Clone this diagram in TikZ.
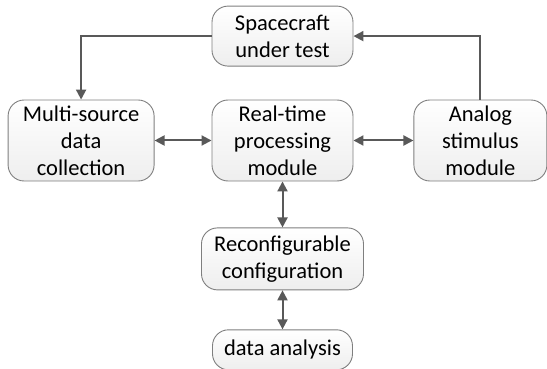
\documentclass[tikz,border=0pt]{standalone}
\usepackage{fontspec}
\setmainfont{Carlito}
\usetikzlibrary{arrows.meta,positioning}
\definecolor{edge}{HTML}{7F7F7F}
\definecolor{ink}{HTML}{595959}
\definecolor{shade}{HTML}{EEEEEE}

\begin{document}
\begin{tikzpicture}[x=1pt, y=1pt,
  box/.style={draw=edge, line width=0.9pt, rounded corners=16pt,
              top color=white, middle color=white, bottom color=shade,
              align=center, font=\fontsize{22.5}{27}\selectfont, inner sep=2pt},
  arr/.style={-{Triangle[length=10pt,width=10pt]}, line width=2pt, ink},
  biarr/.style={{Triangle[length=10pt,width=10pt]}-{Triangle[length=10pt,width=10pt]},
                line width=2pt, ink}
]
  \useasboundingbox (0,0) rectangle (547,-369);
  \node[box, minimum width=141pt, minimum height=81pt] (rt) at (282.5,-140.5)
    {Real-time\\processing\\module};
  \node[box, minimum width=146pt, minimum height=81pt, left=57pt of rt] (ms)
    {Multi-source\\data\\collection};
  \node[box, minimum width=133pt, minimum height=81pt, right=60pt of rt] (an)
    {Analog\\stimulus\\module};
  \node[box, minimum width=141pt, minimum height=60pt, above=33pt of rt] (sc)
    {Spacecraft\\under test};
  \node[box, minimum width=162pt, minimum height=62pt, below=46pt of rt] (rc)
    {Reconfigurable\\configuration};
  \node[box, minimum width=140pt, minimum height=40pt, below=39pt of rc] (da)
    {data analysis};
  \draw[arr] (sc.west) -| (ms.north);
  \draw[arr] (an.north) |- (sc.east);
  \draw[biarr] (ms) -- (rt);
  \draw[biarr] (rt) -- (an);
  \draw[biarr] (rt) -- (rc);
  \draw[biarr] (rc) -- (da);
\end{tikzpicture}
\end{document}
